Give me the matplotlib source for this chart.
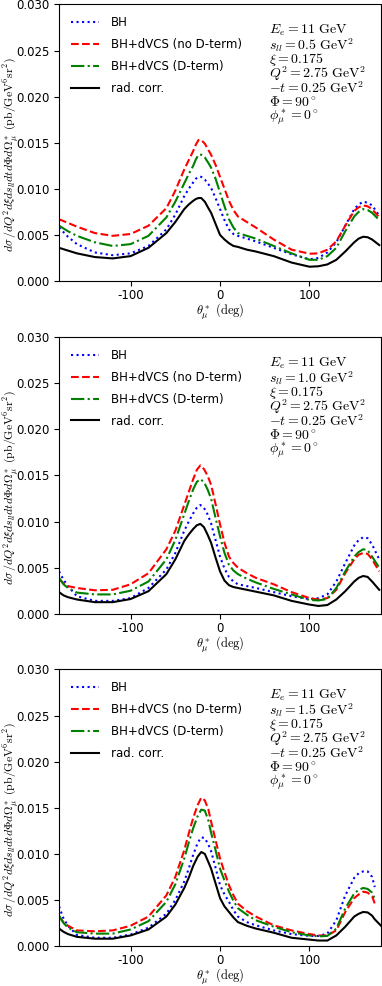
import numpy as np
import matplotlib
matplotlib.use("Agg")
import matplotlib.pyplot as plt

# --- 1. データ (値は 1e-3 単位で読み取り) ---
s_ll = ["0.5", "1.0", "1.5"]

theta1 = [-180, -170, -160, -140, -120, -100, -80, -60, -50, -40, -35, -30, -27, -24, -21, -17, -13, -10, -5,
          0, 5, 10, 15, 20, 30, 40, 60, 80, 100, 110, 120, 130, 140, 150, 155, 160, 165, 170, 178]
nod1 = [6.7, 6.3, 5.9, 5.2, 4.9, 5.1, 6.0, 7.9, 9.8, 12.1, 13.1, 14.1, 14.8, 15.3, 15.3, 14.9, 14.2, 13.7, 12.6,
        11.3, 10.0, 8.7, 7.7, 7.0, 6.4, 5.8, 4.5, 3.4, 2.96, 3.0, 3.4, 4.3, 6.0, 7.6, 8.0, 8.2, 8.1, 7.8, 6.9]
dt1 = [6.0, 5.4, 4.9, 4.2, 3.8, 4.0, 4.9, 6.9, 8.6, 10.6, 11.6, 12.5, 13.2, 13.7, 13.7, 13.4, 12.8, 12.3, 11.1,
       9.6, 8.1, 6.7, 5.8, 5.2, 4.9, 4.6, 3.8, 3.0, 2.3, 2.3, 2.7, 3.6, 5.4, 7.0, 7.5, 7.8, 7.7, 7.4, 6.6]
bh1 = [5.8, 4.8, 4.0, 3.1, 2.8, 3.0, 3.8, 5.6, 7.2, 9.2, 10.0, 10.7, 11.1, 11.3, 11.3, 11.0, 10.5, 10.1, 9.0,
       7.8, 6.6, 5.6, 5.1, 4.9, 4.6, 4.3, 3.6, 2.9, 2.35, 2.5, 3.1, 4.2, 6.0, 7.8, 8.3, 8.6, 8.5, 8.2, 7.1]
rc1 = [3.6, 3.3, 3.0, 2.6, 2.45, 2.7, 3.6, 5.2, 6.4, 7.8, 8.3, 8.7, 8.9, 9.0, 9.0, 8.6, 7.9, 7.4, 6.2,
       5.0, 4.5, 4.1, 3.8, 3.7, 3.4, 3.2, 2.7, 2.0, 1.55, 1.6, 1.8, 2.3, 3.2, 4.2, 4.6, 4.8, 4.75, 4.5, 3.9]

theta2 = [-180, -175, -170, -160, -140, -120, -100, -80, -60, -50, -40, -35, -30, -26, -22, -18, -14, -10, -5,
          0, 5, 10, 15, 20, 30, 40, 60, 80, 100, 110, 120, 130, 140, 150, 155, 160, 165, 170, 178]
nod2 = [3.8, 3.3, 3.0, 2.8, 2.55, 2.6, 3.2, 4.4, 7.0, 9.0, 11.8, 13.2, 14.6, 15.6, 16.1, 15.7, 15.0, 14.0, 11.9,
        9.7, 7.7, 6.2, 5.5, 5.0, 4.4, 3.9, 3.2, 2.35, 1.7, 1.55, 1.7, 2.6, 4.4, 5.9, 6.4, 6.6, 6.5, 5.9, 4.6]
dt2 = [3.9, 3.2, 2.8, 2.3, 2.1, 2.1, 2.5, 3.5, 5.9, 8.0, 10.8, 12.2, 13.5, 14.3, 14.6, 14.3, 13.5, 12.5, 10.4,
       8.4, 6.6, 5.3, 4.7, 4.3, 3.8, 3.4, 2.7, 2.1, 1.5, 1.45, 1.6, 2.8, 4.6, 6.2, 6.7, 7.0, 6.9, 6.2, 5.0]
bh2 = [4.6, 3.7, 3.0, 1.9, 1.4, 1.4, 1.7, 2.8, 4.8, 6.6, 9.0, 10.0, 10.9, 11.5, 11.8, 11.5, 10.8, 9.8, 8.0,
       6.2, 4.9, 4.0, 3.5, 3.2, 3.0, 2.8, 2.35, 1.9, 1.6, 1.7, 2.1, 3.5, 5.5, 7.4, 8.0, 8.3, 8.2, 7.5, 5.9]
rc2 = [2.35, 2.0, 1.8, 1.55, 1.26, 1.26, 1.6, 2.45, 4.3, 5.9, 7.9, 8.6, 9.2, 9.6, 9.75, 9.4, 8.6, 7.7, 6.1,
       4.6, 3.6, 3.1, 2.9, 2.8, 2.6, 2.4, 2.0, 1.4, 1.0, 0.85, 0.95, 1.55, 2.45, 3.5, 3.9, 4.1, 4.0, 3.5, 2.6]

theta3 = [-180, -175, -170, -160, -140, -120, -100, -80, -60, -50, -40, -35, -30, -25, -21, -17, -13, -10, -5,
          0, 5, 10, 15, 20, 30, 40, 60, 80, 100, 110, 120, 130, 140, 150, 155, 160, 165, 170, 173, 180]
nod3 = [3.2, 2.6, 2.2, 1.7, 1.6, 1.7, 2.2, 3.2, 5.5, 7.5, 10.4, 12.2, 13.9, 15.3, 16.1, 15.8, 14.8, 13.5, 11.5,
        9.5, 8.0, 6.6, 5.5, 4.6, 3.8, 3.2, 2.25, 1.7, 1.3, 1.15, 1.15, 1.7, 3.7, 5.2, 5.6, 5.9, 5.8, 5.4, 4.6, np.nan]
dt3 = [3.3, 2.5, 2.0, 1.5, 1.35, 1.35, 1.8, 2.7, 4.8, 6.7, 9.5, 11.2, 12.8, 14.1, 14.8, 14.7, 13.6, 12.3, 10.4,
       8.4, 7.1, 5.9, 4.9, 4.1, 3.4, 2.8, 2.1, 1.5, 1.15, 1.05, 1.1, 1.9, 4.1, 5.7, 6.1, 6.3, 6.2, 5.8, 5.1, np.nan]
bh3 = [4.3, 3.0, 2.2, 1.2, 0.9, 0.9, 1.25, 2.0, 3.5, 5.0, 7.0, 8.4, 9.9, 11.2, 11.8, 11.7, 11.0, 10.3, 8.5,
       6.6, 5.6, 4.8, 3.9, 3.2, 2.6, 2.25, 1.7, 1.3, 1.1, 1.1, 1.35, 2.8, 5.5, 7.4, 7.9, 8.1, 8.1, 7.5, 6.4, np.nan]
rc3 = [1.9, 1.55, 1.3, 1.0, 0.8, 0.8, 1.15, 1.8, 3.2, 4.5, 6.3, 7.4, 8.7, 9.7, 10.2, 10.0, 9.1, 8.4, 6.8,
       5.2, 4.3, 3.7, 3.1, 2.6, 2.2, 1.9, 1.45, 0.9, 0.7, 0.6, 0.6, 1.15, 2.1, 3.2, 3.5, 3.7, 3.65, 3.3, 2.9, 2.2]

panels = [(theta1, bh1, nod1, dt1, rc1), (theta2, bh2, nod2, dt2, rc2), (theta3, bh3, nod3, dt3, rc3)]
labels = ["BH", "BH+dVCS (no D-term)", "BH+dVCS (D-term)", "rad. corr."]
styles = [("blue", ":"), ("red", "--"), ("green", "-."), ("black", "-")]

# --- 2. 描画 ---
plt.rcParams['mathtext.fontset'] = 'cm'
plt.rcParams['axes.unicode_minus'] = False
plt.rcParams['font.size'] = 8

fig = plt.figure(figsize=(3.82, 9.86), dpi=100)
bottoms = [0.715, 0.3775, 0.0405]

for i, (th, *curves) in enumerate(panels):
    ax = fig.add_axes([0.1545, bottoms[i], 0.843, 0.2805])
    for vals, lab, (c, ls) in zip(curves, labels, styles):
        ax.plot(th, np.array(vals, dtype=float) * 1e-3, color=c, linestyle=ls, linewidth=1.5, label=lab)
    ax.set_xlim(-180, 180)
    ax.set_ylim(0, 0.030)
    ax.set_xticks([-100, 0, 100])
    ax.set_yticks(np.arange(0, 0.0301, 0.005))
    ax.yaxis.set_major_formatter(matplotlib.ticker.FormatStrFormatter('%.3f'))
    ax.tick_params(labelsize=8.5)
    ax.tick_params(axis='x', pad=2.5)
    ax.legend(loc='upper left', frameon=False, fontsize=8.5, handlelength=2.4,
              handletextpad=1.0, labelspacing=0.75, borderaxespad=0.6)
    ax.set_xlabel(r'$\theta^*_\mu\ (\mathrm{deg})$', fontsize=9, labelpad=-0.5)
    ax.set_ylabel(r'$d\sigma\,/dQ^2d\xi ds_{ll}dtd\Phi d\Omega^*_\mu\ (\mathrm{pb/GeV^6sr^2})$', fontsize=8.5)
    ax.yaxis.set_label_coords(-0.115, 0.458)

    info = [r'$E_e = 11\ \mathrm{GeV}$',
            r'$s_{ll} = %s\ \mathrm{GeV}^2$' % s_ll[i],
            r'$\xi = 0.175$',
            r'$Q^2 = 2.75\ \mathrm{GeV}^2$',
            r'$-t = 0.25\ \mathrm{GeV}^2$',
            r'$\Phi = 90^\circ$',
            r'$\phi^*_\mu = 0^\circ$']
    for k, line in enumerate(info):
        ax.text(0.652, 0.905 - k * 0.0523, line, transform=ax.transAxes, va='center', ha='left', fontsize=10)

fig.savefig('out.png', dpi=100)
